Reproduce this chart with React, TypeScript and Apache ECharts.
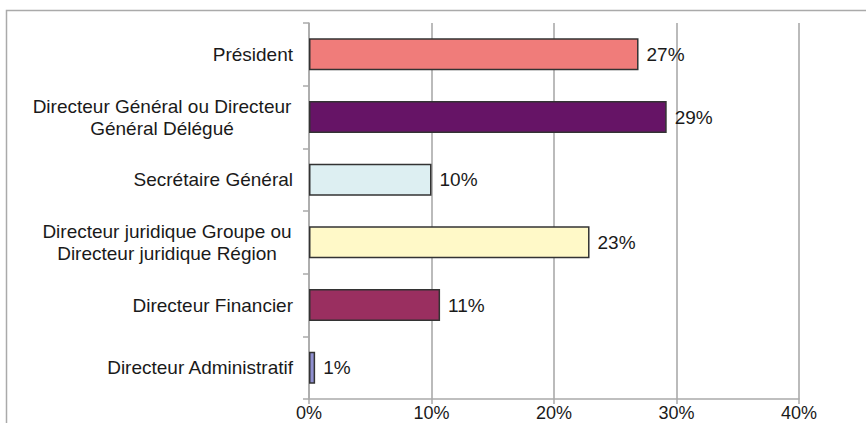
import React, { useEffect, useRef } from "react";
import * as echarts from "echarts";

const categories = [
  "Président",
  "Directeur Général ou Directeur\nGénéral Délégué",
  "Secrétaire Général",
  "Directeur juridique Groupe ou\nDirecteur juridique Région",
  "Directeur Financier",
  "Directeur Administratif",
];
const values = [26.9, 29.2, 10.0, 22.9, 10.7, 0.5];
const valueLabels = ["27%", "29%", "10%", "23%", "11%", "1%"];
const barColors = ["#F07C7A", "#661466", "#DDEFF2", "#FFF9C8", "#9A2F60", "#9090D0"];
const xTicks = [0, 10, 20, 30, 40];

export default function App() {
  const ref = useRef<HTMLDivElement>(null);
  useEffect(() => {
    if (!ref.current) return;
    const chart = echarts.init(ref.current, undefined, { renderer: "svg" });
    const font = "'Liberation Sans', Arial, sans-serif";
    const textColor = "#1a1a1a";
    const richBase = {
      align: "center",
      fontFamily: font,
      fontSize: 19,
      color: textColor,
      lineHeight: 22,
    };
    chart.setOption({
      animation: false,
      backgroundColor: "#ffffff",
      graphic: [
        {
          type: "rect",
          left: 4,
          top: 8,
          shape: { width: 900, height: 500 },
          style: { fill: "none", stroke: "#aaaaaa", lineWidth: 1.5 },
          silent: true,
        },
      ],
      grid: { left: 309, right: 67, top: 23, bottom: 24, containLabel: false },
      xAxis: {
        type: "value",
        min: xTicks[0],
        max: xTicks[xTicks.length - 1],
        interval: 10,
        axisLine: { show: true, lineStyle: { color: "#aaaaaa", width: 1.5 } },
        axisTick: { show: true, length: 5, lineStyle: { color: "#aaaaaa", width: 1.5 } },
        splitLine: { show: true, lineStyle: { color: "#bbbbbb", width: 2 } },
        axisLabel: {
          formatter: (v: number) => v + "%",
          color: textColor,
          fontFamily: font,
          fontSize: 18,
          margin: 5,
        },
      },
      yAxis: {
        type: "category",
        inverse: true,
        data: categories,
        axisLine: { show: true, lineStyle: { color: "#aaaaaa", width: 1.5 } },
        axisTick: { show: true, length: 6, lineStyle: { color: "#aaaaaa", width: 1.5 } },
        axisLabel: {
          color: textColor,
          fontFamily: font,
          fontSize: 19,
          margin: 16,
          lineHeight: 22,
          formatter: (v: string, idx: number) => {
            if (v.indexOf("\n") >= 0) {
              const key = idx === 1 ? "c" : "d";
              return v
                .split("\n")
                .map((l) => "{" + key + "|" + l + "}")
                .join("\n");
            }
            return v;
          },
          rich: {
            c: { ...richBase, width: 262 },
            d: { ...richBase, width: 252 },
          },
        },
      },
      series: [
        {
          type: "bar",
          barWidth: "51%",
          data: values.map((v, i) => ({
            value: v,
            itemStyle: { color: barColors[i], borderColor: "#333333", borderWidth: 1.5 },
          })),
          label: {
            show: true,
            position: "right",
            distance: 8,
            formatter: (p: any) => valueLabels[p.dataIndex],
            color: textColor,
            fontFamily: font,
            fontSize: 19,
          },
        },
      ],
    });
    return () => chart.dispose();
  }, []);
  return (
    <div
      ref={ref}
      style={{ position: "fixed", left: 0, top: 0, width: 866, height: 423, background: "#fff" }}
    />
  );
}
